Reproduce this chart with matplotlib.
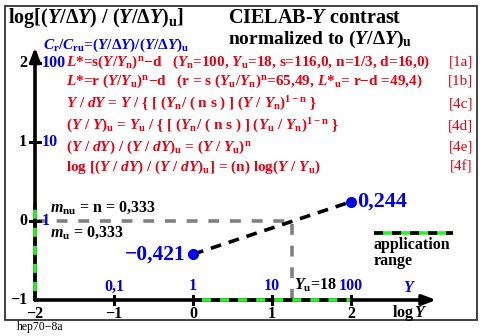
import matplotlib
matplotlib.use("Agg")
import matplotlib.pyplot as plt
import numpy as np

# Daten
log_y = [0, 2]                  # log Y der Endpunkte
contrast = [-0.421, 0.244]      # log[(Y/dY)/(Y/dY)u]
point_labels = ['\u22120,421', '0,244']
y_u = 18
x_ticks = [-2, -1, 0, 1, 2]
x_tick_labels = ['\u22122', '\u22121', '0', '1', '2']
y_ticks = [-1, 0, 1, 2]
y_tick_labels = ['\u22121', '0', '1', '2']
x_blue_pos = [-1, 0, 1, 2]
x_blue_labels = ['0,1', '1', '10', '100']
y_blue_pos = [0, 1, 2]
y_blue_labels = ['1', '10', '100']
app_x = [0, 2]
app_y = [-1, 0.244]

plt.rcParams['font.family'] = ['Liberation Serif', 'DejaVu Serif']
plt.rcParams['font.weight'] = 'bold'
plt.rcParams['mathtext.fontset'] = 'custom'
plt.rcParams['mathtext.rm'] = 'Liberation Serif:bold'
plt.rcParams['mathtext.it'] = 'Liberation Serif:italic:bold'
plt.rcParams['mathtext.bf'] = 'Liberation Serif:bold'

RED = '#e60012'
BLUE = '#0000e6'
GREEN = '#2ef02a'

W, H = 489, 336
X0, Y0, S = 193, 221, 79   # Pixel von (0,0), Pixel je Einheit

fig = plt.figure(figsize=(W / 100, H / 100), dpi=100)
ax = fig.add_axes([0, 0, 1, 1])
ax.set_xlim(-X0 / S, (W - X0) / S)
ax.set_ylim((Y0 - H) / S, Y0 / S)
ax.axis('off')

def P(px, py):
    return (px - X0) / S, (Y0 - py) / S

# Rahmen
x1, y1 = P(5, 6)
x2, y2 = P(477, 320)
ax.add_patch(plt.Rectangle((x1, y2), x2 - x1, y1 - y2, fill=False, ec='#333333', lw=1.3))

# Achsen mit Pfeilen
ax.annotate('', xy=(3.08, -1), xytext=(-2, -1),
            arrowprops=dict(arrowstyle='-|>,head_length=0.8,head_width=0.3', lw=2.6, color='black',
                            shrinkA=0, shrinkB=0))
ax.annotate('', xy=(-2, 2.2), xytext=(-2, -1),
            arrowprops=dict(arrowstyle='-|>,head_length=0.8,head_width=0.3', lw=2.6, color='black',
                            shrinkA=0, shrinkB=0))

# Anwendungsbereich
ax.plot(app_x, [-1, -1], color=GREEN, lw=2.6, solid_capstyle='butt', zorder=3)
ax.plot(app_x, [-1, -1], color='black', lw=2.6, dashes=(2.5, 2.5), zorder=4)
ax.plot([-2, -2], app_y, color=GREEN, lw=2.6, solid_capstyle='butt', zorder=3)
ax.plot([-2, -2], app_y, color='black', lw=2.6, dashes=(2.5, 2.5), zorder=4)

# Striche
for t in x_ticks[1:]:
    ax.plot([t, t], [-1.05, -0.95], color='black', lw=2.2, zorder=5)
for t in y_ticks[1:]:
    ax.plot([-2.06, -1.94], [t, t], color='black', lw=2.2, zorder=5)

for t, s in zip(x_ticks, x_tick_labels):
    ax.text(t, -1.07, s, ha='center', va='top', fontsize=11.5)
for t, s in zip(y_ticks, y_tick_labels):
    ax.text(-2.1, t, s, ha='right', va='center', fontsize=11.5)
for t, s in zip(x_blue_pos, x_blue_labels):
    ax.text(t, -0.93, s, ha='center', va='bottom', fontsize=11.5, color=BLUE)
for t, s in zip(y_blue_pos, y_blue_labels):
    ax.text(-1.92, t, s, ha='left', va='center', fontsize=11.5, color=BLUE)

# Graue Hilfslinien bei Yu
lyu = np.log10(y_u)
ax.plot([-2, lyu, lyu], [0, 0, -1], color='#808080', lw=2.6, dashes=(3, 3), zorder=2)
ax.text(lyu + 0.02, -0.93, r'$Y_{\mathrm{u}}$=18', ha='left', va='bottom', fontsize=11.5)

# Kontrastlinie
ax.plot(log_y, contrast, color='black', lw=2.6, dashes=(3, 2.2), zorder=4)
ax.plot(log_y, contrast, 'o', color=BLUE, ms=7, zorder=6)
ax.text(log_y[0] - 0.1, contrast[0], point_labels[0], ha='right', va='center',
        fontsize=15.5, color=BLUE)
ax.text(log_y[1] + 0.08, contrast[1], point_labels[1], ha='left', va='center',
        fontsize=16, color=BLUE)

ax.text(*P(50, 208), r'$m_{\mathrm{nu}}$ = n = 0,333', ha='left', va='center', fontsize=11.5)
ax.text(*P(50, 233), r'$m_{\mathrm{u}}$ = 0,333', ha='left', va='center', fontsize=11.5)

# Achsenbeschriftung rechts
ax.text(*P(410, 288), r'$Y$', ha='center', va='center', fontsize=11.5, color=BLUE)
ax.text(*P(410, 313), r'log$\,Y$', ha='center', va='center', fontsize=11.5)

# Legende
lx1, ly = P(374, 233)
lx2, _ = P(453, 233)
ax.plot([lx1, lx2], [ly, ly], color=GREEN, lw=2.6, solid_capstyle='butt')
ax.plot([lx1, lx2], [ly, ly], color='black', lw=2.6, dashes=(2.5, 2.5))
ax.text(*P(374, 253), 'application\nrange', ha='left', va='center', fontsize=11.5,
        linespacing=0.95)

# Titel
ax.text(*P(8, 18), r'log[($Y$/Δ$Y$) / ($Y$/Δ$Y$)$_{\mathrm{u}}$]', ha='left', va='center',
        fontsize=14.5)
ax.text(*P(228, 18), r'CIELAB-$Y$ contrast', ha='left', va='center', fontsize=14.5)
ax.text(*P(228, 39), r'normalized to ($Y$/Δ$Y$)$_{\mathrm{u}}$', ha='left', va='center',
        fontsize=14)
ax.text(*P(43, 45), r'$C_{\mathrm{r}}/C_{\mathrm{ru}}$=($Y$/Δ$Y$)/($Y$/Δ$Y$)$_{\mathrm{u}}$',
        ha='left', va='center', fontsize=11, color=BLUE)

# Formeln
formulas = [
    r'$L$*=s($Y$/$Y_{\mathrm{n}}$)$^{\mathrm{n}}$$-$d   ($Y_{\mathrm{n}}$=100, $Y_{\mathrm{u}}$=18, s=116,0, n=1/3, d=16,0)',
    r'$L$*=r ($Y$/$Y_{\mathrm{u}}$)$^{\mathrm{n}}$$-$d   (r = s ($Y_{\mathrm{u}}$/$Y_{\mathrm{n}}$)$^{\mathrm{n}}$=65,49, $L$*$_{\mathrm{u}}$= r$-$d =49,4)',
    r'$Y$ / $dY$ = $Y$ / { [ ($Y_{\mathrm{n}}$/ ( n s ) ] ($Y$ / $Y_{\mathrm{n}}$)$^{\mathrm{1-n}}$ }',
    r'($Y$ / $Y$)$_{\mathrm{u}}$ = $Y_{\mathrm{u}}$ / { [ ($Y_{\mathrm{n}}$/ ( n s ) ] ($Y_{\mathrm{u}}$ / $Y_{\mathrm{n}}$)$^{\mathrm{1-n}}$ }',
    r'($Y$ / $dY$) / ($Y$ / $dY$)$_{\mathrm{u}}$ = ($Y$ / $Y_{\mathrm{u}}$)$^{\mathrm{n}}$',
    r'log [($Y$ / $dY$) / ($Y$ / $dY$)$_{\mathrm{u}}$] = (n) log($Y$ / $Y_{\mathrm{u}}$)',
]
tags = ['[1a]', '[1b]', '[4c]', '[4d]', '[4e]', '[4f]']
rows = [62, 81, 104, 126, 147, 167]
for f, t, r in zip(formulas, tags, rows):
    ax.text(*P(66, r), f, ha='left', va='center', fontsize=11, color=RED)
    ax.text(*P(473, r), t, ha='right', va='center', fontsize=11, color=RED, fontweight='normal')

fig.text(17 / W, 1 - 327 / H, 'hep70\u22128a', ha='left', va='center', fontsize=8.5,
         fontweight='normal')

fig.savefig('out.png', dpi=100)
